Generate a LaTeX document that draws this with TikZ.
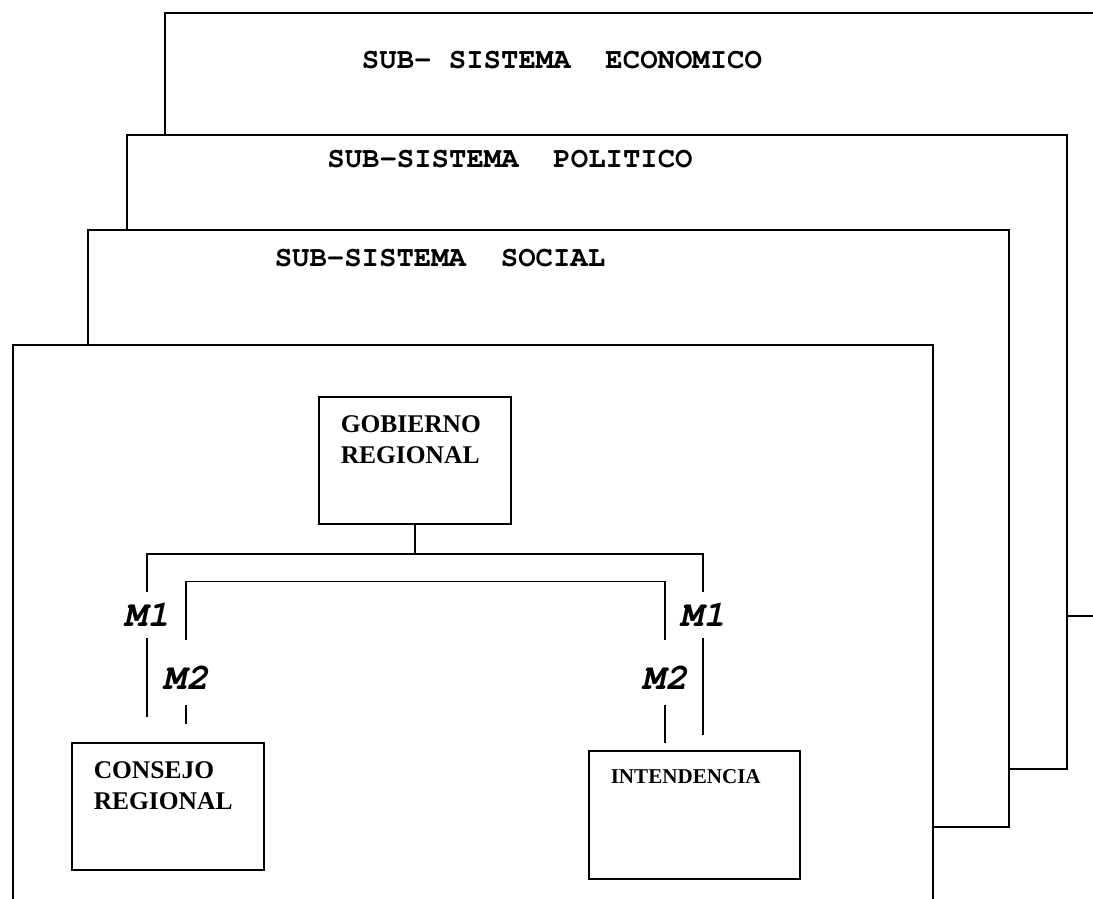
\documentclass[tikz,border=0pt]{standalone}
\usepackage{fontspec}
\setmainfont{Liberation Serif}
\setmonofont{TeX Gyre Cursor}
\usetikzlibrary{fit}
\tikzstyle{layer} = [draw, fill=white, line width=0.9pt, inner sep=0pt]
\tikzstyle{title} = [font=\ttfamily\bfseries\fontsize{16.5}{18}\selectfont]
\tikzstyle{organo} = [rectangle, draw, line width=0.9pt, anchor=north west, align=left, inner xsep=0.44cm, inner ysep=0.37cm, font=\bfseries\fontsize{14.5}{18}\selectfont]
\tikzstyle{vinculo} = [inner sep=0pt, text depth=0pt, font=\ttfamily\bfseries\itshape\fontsize{21}{24}\selectfont]
\tikzstyle{link} = [line width=0.9pt]

\begin{document}
\begin{tikzpicture}[x=0.02cm, y=-0.02cm]
  \useasboundingbox (0,0) rectangle (1093,899);
  \clip (0,0) rectangle (1093,899);

  % Capas de sub-sistemas (de atras hacia adelante)
  \node[layer, fit={(165,13) (1120,616)}] (eco) {};
  \node[layer, fit={(127,135) (1067,769)}] (pol) {};
  \node[layer, fit={(88,230) (1009,827)}] (soc) {};
  \node[layer, fit={(13,345) (933,930)}] (fro) {};

  % Titulos
  \node[title] (teco) at (562,60) {SUB-~SISTEMA~~ECONOMICO};
  \node[title] (tpol) at (510,159) {SUB-SISTEMA~~POLITICO};
  \node[title] (tsoc) at (440,258) {SUB-SISTEMA~~SOCIAL};

  % Organos
  \node[organo, text width=2.96cm, text depth=1.47cm] (gob) at (318,396) {GOBIERNO\\REGIONAL};
  \node[organo, text width=2.96cm, text depth=1.47cm] (cons) at (71,742) {CONSEJO\\REGIONAL};
  \node[organo, font=\bfseries\fontsize{12}{14}\selectfont, text width=3.34cm, text depth=1.54cm] (inte) at (588,750) {INTENDENCIA};

  % Etiquetas M1 / M2
  \node[vinculo, text height=0.44cm, minimum height=0.92cm] (m1i) at (147,615) {M1};
  \node[vinculo, text height=0.44cm, minimum height=0.92cm] (m1d) at (703,615) {M1};
  \node[vinculo, text height=0.66cm, minimum height=1.3cm] (m2i) at (186,672.5) {M2};
  \node[vinculo, text height=0.66cm, minimum height=1.3cm] (m2d) at (665,672.5) {M2};

  % Lineas M1
  \draw[link] (gob.south) -- ++(0,29) -| (m1i.north);
  \draw[link] (gob.south) -- ++(0,29) -| (m1d.north);
  \draw[link] (m1i.south) -- ++(0,79);
  \draw[link] (m1d.south) -- ++(0,97);

  % Lineas M2
  \draw[link] (m2i.north) -- ++(0,-58) -| (m2d.north);
  \draw[link] (m2i.south) -- ++(0,19);
  \draw[link] (m2d.south) -- ++(0,38);
\end{tikzpicture}
\end{document}
